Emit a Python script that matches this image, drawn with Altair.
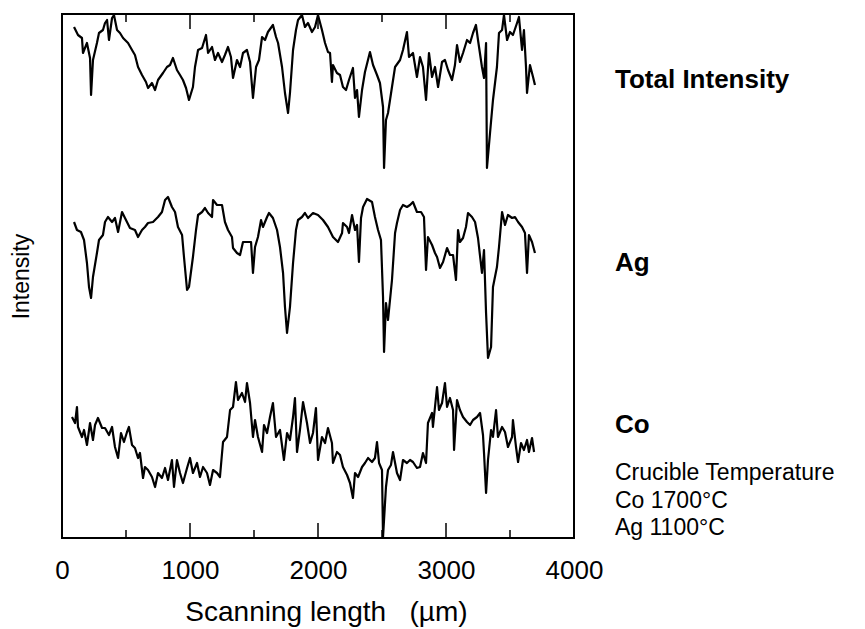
import altair as alt
import pandas as pd

# (scanning length in µm, intensity)
total_intensity = [
    (94, 511), (125, 503), (156, 500), (164, 485), (195, 495), (219, 480), (227, 443), (242, 478),
    (273, 495), (289, 505), (320, 508), (336, 515), (352, 518), (367, 498), (391, 520), (406, 523),
    (430, 508), (453, 505), (477, 500), (516, 495), (547, 488), (570, 483), (594, 471), (625, 463),
    (656, 456), (672, 450), (703, 455), (727, 448), (750, 458), (789, 465), (820, 471), (844, 473),
    (867, 480), (898, 468), (922, 463), (945, 458), (969, 450), (992, 438), (1023, 451), (1039, 471),
    (1063, 488), (1094, 490), (1125, 503), (1141, 485), (1172, 491), (1195, 478), (1219, 485),
    (1250, 476), (1273, 483), (1297, 491), (1320, 481), (1336, 460), (1367, 478), (1391, 471),
    (1414, 485), (1445, 488), (1469, 476), (1492, 440), (1516, 471), (1539, 478), (1563, 501),
    (1586, 498), (1609, 506), (1648, 513), (1672, 501), (1688, 495), (1719, 471), (1742, 445),
    (1766, 425), (1781, 445), (1805, 488), (1828, 508), (1844, 518), (1875, 523), (1898, 511),
    (1922, 515), (1953, 506), (1977, 511), (2000, 523), (2031, 508), (2055, 495), (2078, 486),
    (2094, 485), (2109, 456), (2117, 473), (2148, 465), (2172, 463), (2195, 451), (2219, 448),
    (2242, 458), (2273, 470), (2289, 440), (2305, 448), (2320, 421), (2344, 448), (2367, 466),
    (2406, 486), (2430, 473), (2461, 463), (2484, 455), (2508, 431), (2516, 370), (2531, 418),
    (2547, 425), (2578, 451), (2602, 471), (2641, 478), (2664, 488), (2695, 506), (2711, 481),
    (2742, 485), (2773, 461), (2797, 481), (2820, 471), (2844, 438), (2867, 485), (2891, 461),
    (2914, 471), (2938, 451), (2969, 476), (2992, 478), (3016, 468), (3047, 458), (3070, 473),
    (3086, 493), (3109, 476), (3133, 485), (3164, 498), (3188, 495), (3211, 505), (3234, 513),
    (3250, 498), (3281, 471), (3297, 460), (3313, 495), (3320, 370), (3344, 405), (3367, 438),
    (3398, 471), (3414, 505), (3438, 508), (3453, 523), (3477, 498), (3500, 506), (3523, 503),
    (3555, 515), (3570, 521), (3594, 488), (3609, 508), (3625, 471), (3633, 445), (3656, 473),
    (3680, 461), (3695, 453),
]

ag = [
    (94, 316), (117, 308), (148, 306), (172, 298), (195, 275), (211, 251), (227, 240), (242, 261),
    (273, 285), (289, 298), (320, 303), (336, 316), (359, 321), (391, 316), (414, 320), (438, 306),
    (469, 326), (492, 320), (531, 310), (570, 308), (594, 301), (625, 308), (648, 311), (672, 315),
    (711, 316), (750, 321), (781, 326), (805, 338), (828, 341), (859, 331), (883, 326), (906, 311),
    (938, 303), (953, 281), (977, 248), (992, 251), (1023, 281), (1047, 308), (1063, 323),
    (1094, 326), (1117, 330), (1141, 325), (1172, 321), (1180, 338), (1211, 333), (1250, 333),
    (1273, 316), (1297, 308), (1328, 301), (1336, 290), (1367, 285), (1391, 283), (1414, 296),
    (1445, 296), (1477, 296), (1492, 265), (1508, 291), (1531, 301), (1555, 318), (1570, 311),
    (1602, 321), (1617, 325), (1648, 320), (1680, 308), (1703, 291), (1727, 265), (1742, 231),
    (1758, 205), (1781, 231), (1805, 275), (1828, 308), (1844, 318), (1875, 321), (1898, 325),
    (1922, 320), (1961, 325), (2000, 323), (2039, 318), (2078, 311), (2117, 301), (2156, 296),
    (2188, 305), (2195, 315), (2227, 311), (2242, 305), (2266, 323), (2289, 308), (2305, 313),
    (2320, 276), (2336, 320), (2352, 331), (2383, 339), (2422, 336), (2445, 321), (2469, 308),
    (2492, 298), (2508, 241), (2516, 186), (2531, 235), (2547, 218), (2578, 258), (2602, 305),
    (2617, 315), (2641, 328), (2664, 333), (2695, 331), (2719, 333), (2742, 336), (2773, 326),
    (2805, 326), (2828, 321), (2844, 268), (2859, 301), (2891, 293), (2914, 285), (2930, 281),
    (2953, 270), (2977, 276), (3008, 290), (3031, 283), (3055, 283), (3078, 258), (3094, 308),
    (3109, 296), (3133, 300), (3156, 311), (3172, 325), (3203, 321), (3227, 316), (3250, 300),
    (3281, 265), (3297, 288), (3313, 225), (3328, 180), (3352, 191), (3367, 251), (3398, 271),
    (3414, 291), (3438, 326), (3461, 313), (3484, 323), (3516, 320), (3539, 321), (3563, 316),
    (3594, 311), (3617, 305), (3633, 265), (3648, 303), (3672, 296), (3695, 285),
]

co = [
    (78, 121), (102, 115), (117, 131), (125, 111), (156, 101), (172, 108), (195, 93), (219, 115),
    (242, 98), (258, 113), (281, 120), (313, 110), (336, 110), (367, 103), (391, 111), (414, 91),
    (438, 80), (461, 105), (484, 96), (508, 106), (523, 111), (547, 93), (570, 90), (594, 80),
    (609, 85), (633, 60), (648, 71), (672, 68), (703, 61), (727, 51), (750, 65), (781, 60),
    (805, 70), (828, 58), (859, 78), (875, 51), (898, 78), (922, 65), (945, 55), (977, 70),
    (1000, 80), (1023, 65), (1055, 75), (1078, 61), (1102, 71), (1133, 65), (1156, 53), (1180, 68),
    (1211, 65), (1234, 61), (1258, 96), (1289, 101), (1313, 128), (1336, 131), (1359, 156),
    (1375, 138), (1406, 145), (1430, 136), (1445, 155), (1469, 135), (1492, 101), (1508, 118),
    (1531, 101), (1563, 86), (1578, 113), (1602, 105), (1625, 121), (1648, 135), (1672, 101),
    (1703, 108), (1734, 78), (1758, 105), (1781, 98), (1805, 121), (1820, 140), (1836, 86),
    (1859, 108), (1883, 136), (1914, 115), (1938, 95), (1961, 105), (1984, 130), (2000, 78),
    (2031, 101), (2055, 95), (2078, 110), (2109, 95), (2117, 75), (2148, 86), (2172, 83),
    (2195, 71), (2227, 63), (2250, 55), (2273, 40), (2289, 65), (2313, 61), (2344, 71), (2367, 75),
    (2391, 80), (2422, 76), (2445, 80), (2461, 96), (2477, 75), (2500, 68), (2508, 1), (2531, 51),
    (2547, 68), (2570, 73), (2586, 86), (2617, 65), (2641, 58), (2664, 78), (2695, 75), (2719, 78),
    (2742, 76), (2773, 70), (2797, 71), (2820, 85), (2844, 75), (2859, 115), (2891, 125),
    (2898, 111), (2930, 151), (2945, 128), (2969, 135), (2992, 155), (3008, 131), (3031, 140),
    (3055, 128), (3063, 88), (3086, 138), (3109, 128), (3133, 121), (3164, 116), (3188, 113),
    (3211, 118), (3242, 121), (3266, 125), (3289, 103), (3297, 85), (3313, 45), (3328, 78),
    (3352, 108), (3367, 101), (3391, 128), (3406, 101), (3438, 111), (3461, 106), (3484, 91),
    (3516, 101), (3523, 118), (3547, 91), (3563, 76), (3586, 95), (3609, 88), (3633, 98),
    (3648, 86), (3672, 100), (3688, 86),
]

tick_positions = [0, 500, 1000, 1500, 2000, 2500, 3000, 3500, 4000]
tick_lengths = [15, 8, 15, 8, 15, 8, 15, 8, 15]
x_tick_labels = [0, 1000, 2000, 3000, 4000]

series_labels = ["Total Intensity", "Ag", "Co"]
series_label_y = [458, 275, 113]
note_lines = ["Crucible Temperature", "Co 1700°C", "Ag 1100°C"]
note_y = [65, 37, 10]

X_TITLE = "Scanning length\u00a0\u00a0\u00a0(µm)"
Y_TITLE = "Intensity"
FONT = "Liberation Sans"

rows = []
for name, pts in [("Total Intensity", total_intensity), ("Ag", ag), ("Co", co)]:
    for a, b in pts:
        rows.append({"series": name, "x": a, "y": b})
df = pd.DataFrame(rows)

ticks_df = pd.DataFrame({"pos": tick_positions, "len": tick_lengths})
lab_df = pd.DataFrame({"txt": series_labels, "ly": series_label_y, "lx": [4000] * 3})
note_df = pd.DataFrame({"txt": note_lines, "ly": note_y, "lx": [4000] * 3})

xs = alt.Scale(domain=[0, 4000], nice=False, zero=False)
ys = alt.Scale(domain=[0, 524], nice=False, zero=False)

x_axis = alt.Axis(
    values=x_tick_labels, format="d", labelFontSize=26, labelColor="black", labelFont=FONT,
    labelPadding=40, labelBaseline="alphabetic", labelFlush=False, ticks=False, tickSize=0,
    domain=False, grid=False, titleFontSize=28, titleFontWeight="normal", titleFont=FONT,
    titleBaseline="alphabetic", titleX=264, titleY=82, titleColor="black",
)
y_axis = alt.Axis(
    labels=False, ticks=False, domain=False, grid=False, titleFontSize=23,
    titleFontWeight="normal", titleFont=FONT, titleBaseline="alphabetic", titleX=-34,
    titleY=262, titleColor="black",
)

lines = alt.Chart(df).mark_line(color="black", strokeWidth=2.2, strokeJoin="round").encode(
    x=alt.X("x:Q", scale=xs, axis=x_axis, title=X_TITLE),
    y=alt.Y("y:Q", scale=ys, axis=y_axis, title=Y_TITLE),
    detail="series:N",
)

bottom_ticks = alt.Chart(ticks_df).transform_calculate(base="0").mark_rule(
    color="black", strokeWidth=1.5
).encode(
    x=alt.X("pos:Q", scale=xs, title=X_TITLE),
    y=alt.Y("base:Q", scale=ys, title=Y_TITLE),
    y2="len:Q",
)

top_ticks = alt.Chart(ticks_df).transform_calculate(
    top="524", top2="524 - datum.len"
).mark_rule(color="black", strokeWidth=1.5).encode(
    x=alt.X("pos:Q", scale=xs, title=X_TITLE),
    y=alt.Y("top:Q", scale=ys, title=Y_TITLE),
    y2="top2:Q",
)

labels = alt.Chart(lab_df).mark_text(
    align="left", baseline="middle", dx=41, fontSize=26, fontWeight="bold", font=FONT,
    color="black",
).encode(
    x=alt.X("lx:Q", scale=xs, title=X_TITLE),
    y=alt.Y("ly:Q", scale=ys, title=Y_TITLE),
    text="txt:N",
)

notes = alt.Chart(note_df).mark_text(
    align="left", baseline="middle", dx=41, fontSize=23, font=FONT, color="black",
).encode(
    x=alt.X("lx:Q", scale=xs, title=X_TITLE),
    y=alt.Y("ly:Q", scale=ys, title=Y_TITLE),
    text="txt:N",
)

chart = alt.layer(lines, bottom_ticks, top_ticks, labels, notes).properties(
    width=512,
    height=524,
    autosize=alt.AutoSizeParams(type="none"),
    padding={"left": 62, "top": 14, "right": 291, "bottom": 91},
    background="white",
).configure_view(stroke="black", strokeWidth=2)

chart.save("out.html", embed_options={"renderer": "svg", "actions": False})
